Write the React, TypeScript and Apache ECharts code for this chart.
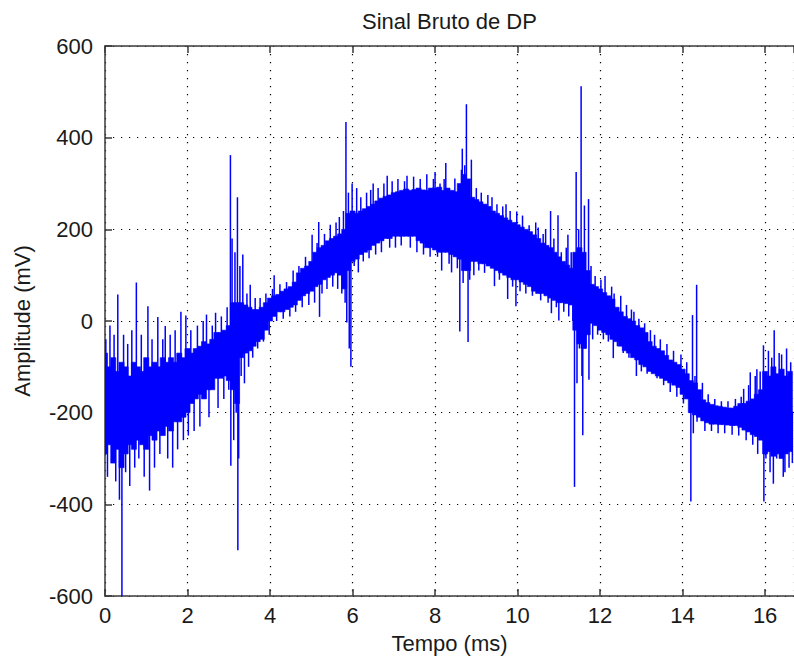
import React, { useEffect, useRef } from "react";
import * as echarts from "echarts";

// Sample step of the binned envelope (ms)
const BIN_STEP = 0.1;

// Upper edge of the dense signal band, one value per 0.1 ms bin (mV), t = 0.0 .. 16.6
const CORE_HI = [
  -70, -100, -80, -110, -90, -100, -120, -90, -100, -110,
  -80, -100, -90, -100, -80, -90, -80, -90, -70, -80,
  -60, -70, -60, -55, -45, -50, -40, -25, -25, -20,
  -10, 40, 40, 40, 35, 30, 25, 25, 30, 40,
  50, 55, 58, 65, 70, 75, 85, 105, 115, 120,
  130, 150, 160, 165, 175, 180, 185, 190, 200, 235,
  240, 235, 240, 245, 250, 255, 262, 268, 272, 275,
  280, 282, 285, 288, 285, 287, 290, 286, 285, 290,
  290, 292, 285, 290, 285, 282, 300, 320, 310, 270,
  265, 260, 255, 250, 240, 235, 230, 225, 220, 215,
  210, 205, 200, 195, 188, 180, 170, 165, 160, 150,
  140, 130, 122, 115, 150, 160, 150, 110, 80, 75,
  70, 62, 55, 48, 30, 20, 10, 5, 0, -10,
  -15, -25, -45, -55, -60, -65, -75, -85, -90, -95,
  -105, -115, -130, -135, -150, -172, -178, -182, -185, -186,
  -188, -190, -190, -186, -180, -180, -175, -170, -160, -150,
  -110, -120, -100, -115, -105, -120, -110,
];

// Lower edge of the dense signal band (mV), same bins
const CORE_LO = [
  -290, -270, -310, -280, -320, -290, -270, -280, -260, -270,
  -280, -250, -260, -240, -250, -230, -240, -220, -220, -210,
  -200, -180, -170, -160, -170, -150, -150, -125, -125, -120,
  -130, -150, -180, -80, -70, -65, -55, -45, -40, -20,
  0, 10, 20, 20, 25, 30, 35, 45, 55, 60,
  65, 75, 80, 90, 95, 100, 105, 100, 70, 110,
  130, 135, 145, 150, 155, 165, 170, 175, 180, 180,
  185, 185, 185, 185, 185, 185, 175, 170, 160, 160,
  155, 150, 150, 150, 145, 140, 135, 110, 110, 130,
  130, 125, 125, 120, 115, 110, 105, 100, 95, 90,
  90, 85, 80, 75, 65, 60, 60, 55, 50, 45,
  40, 40, 38, 35, -20, -50, -60, -30, -5, -10,
  -20, -25, -30, -40, -45, -55, -65, -70, -80, -85,
  -95, -100, -110, -115, -120, -125, -130, -135, -140, -145,
  -160, -170, -200, -205, -210, -218, -222, -225, -225, -226,
  -226, -227, -228, -228, -232, -238, -242, -248, -252, -260,
  -290, -285, -295, -290, -300, -290, -285,
];

// Individual spikes: [time (ms), peak amplitude (mV)]
const SPIKES: [number, number][] = [
  [0.02, -40], [0.06, -340], [0.12, -10], [0.17, -300], [0.22, -30], [0.26, -350],
  [0.31, 58], [0.35, -390], [0.41, -600], [0.45, -30], [0.5, -330], [0.55, -50],
  [0.6, -360], [0.65, -20], [0.72, -320], [0.76, 84], [0.82, -300], [0.88, -30],
  [0.95, -340], [1.04, 32], [1.08, -370], [1.14, -40], [1.2, -320], [1.28, 9],
  [1.33, -290], [1.4, -40], [1.46, -11], [1.52, -300], [1.58, -30], [1.64, -320],
  [1.7, -20], [1.76, -280], [1.84, 20], [1.9, -260], [1.96, 12], [2.02, -250],
  [2.08, -20], [2.16, -240], [2.24, -10], [2.3, -230], [2.38, 0], [2.46, 14],
  [2.52, -210], [2.6, -10], [2.68, 18], [2.74, -190], [2.82, 10], [2.88, -170],
  [2.96, 30], [3.0, -150], [3.04, 362], [3.05, -316], [3.08, 180], [3.12, -260],
  [3.15, 150], [3.18, -200], [3.21, 270], [3.22, -500], [3.24, -300], [3.27, 120],
  [3.3, -120], [3.34, 145], [3.38, -136], [3.44, 60], [3.48, -100], [3.52, 79],
  [3.58, -80], [3.64, 50], [3.7, -60], [3.76, 50], [3.84, -45], [3.9, 60],
  [3.98, -30], [4.06, 70], [4.1, 100], [4.16, 0], [4.24, 80], [4.32, 5],
  [4.4, 85], [4.48, 10], [4.56, 110], [4.62, 20], [4.7, 120], [4.78, 30],
  [4.86, 140], [4.94, 35], [5.02, 188], [5.08, 40], [5.14, 170], [5.18, 216],
  [5.2, 9], [5.26, 60], [5.32, 190], [5.38, 70], [5.46, 210], [5.52, 75],
  [5.6, 215], [5.64, 70], [5.68, 227], [5.74, 60], [5.78, 240], [5.82, 40],
  [5.84, 434], [5.86, -3], [5.9, 280], [5.92, -60], [5.96, -100], [5.99, 300],
  [6.04, 120], [6.1, 290], [6.14, 106], [6.2, 270], [6.26, 130], [6.34, 280],
  [6.4, 137], [6.44, 286], [6.5, 300], [6.56, 145], [6.62, 290], [6.7, 150],
  [6.76, 300], [6.84, 317], [6.9, 160], [6.96, 305], [7.04, 160], [7.1, 310],
  [7.18, 165], [7.26, 305], [7.32, 317], [7.4, 160], [7.48, 315], [7.56, 150],
  [7.64, 310], [7.72, 145], [7.8, 320], [7.88, 140], [7.96, 310], [8.0, 325],
  [8.06, 140], [8.12, 300], [8.16, 110], [8.22, 310], [8.26, 345], [8.34, 125],
  [8.4, 106], [8.48, 311], [8.54, 115], [8.6, -23], [8.64, 330], [8.66, 376],
  [8.68, 83], [8.72, 340], [8.76, 473], [8.8, -46], [8.84, 90], [8.88, 352],
  [8.94, 100], [9.0, 290], [9.06, 110], [9.12, 280], [9.2, 105], [9.28, 275],
  [9.38, 270], [9.44, 76], [9.5, 255], [9.56, 90], [9.64, 250], [9.72, 255],
  [9.76, 48], [9.82, 240], [9.88, 75], [9.96, 32], [9.98, 239], [10.06, 65],
  [10.12, 230], [10.2, 60], [10.28, 209], [10.36, 55], [10.44, 215], [10.5, 204],
  [10.56, 45], [10.62, 190], [10.68, 200], [10.74, 40], [10.8, 240], [10.82, 17],
  [10.88, 180], [10.94, 30], [10.98, 231], [11.0, 1], [11.06, 150], [11.12, 20],
  [11.18, 160], [11.22, 188], [11.24, 10], [11.3, 150], [11.34, 0], [11.38, -362],
  [11.42, 325], [11.44, -136], [11.48, 200], [11.5, -60], [11.54, 512], [11.56, -120],
  [11.58, -249], [11.62, 252], [11.66, -60], [11.72, 266], [11.73, -128], [11.78, 120],
  [11.82, -40], [11.88, 98], [11.94, -30], [12.02, 90], [12.08, -40], [12.12, 98],
  [12.2, -45], [12.28, 75], [12.32, -81], [12.34, 60], [12.42, -55], [12.5, 55],
  [12.56, -70], [12.64, 35], [12.7, -80], [12.76, 25], [12.82, 20], [12.88, -120],
  [12.94, 5], [13.0, -110], [13.08, -5], [13.14, -115], [13.22, -20], [13.32, -30],
  [13.38, -125], [13.46, -40], [13.54, -140], [13.62, -50], [13.7, -155], [13.78, -65],
  [13.86, -165], [13.96, -73], [14.02, -180], [14.1, -90], [14.2, -394], [14.24, 13],
  [14.26, -245], [14.3, -120], [14.34, 79], [14.35, -220], [14.42, -150], [14.48, -135],
  [14.54, -240], [14.62, -160], [14.7, -240], [14.78, -170], [14.86, -245], [14.94, -175],
  [15.02, -245], [15.1, -175], [15.2, -248], [15.28, -170], [15.36, -250], [15.42, -165],
  [15.48, -148], [15.54, -260], [15.6, -140], [15.64, -112], [15.7, -270], [15.76, -120],
  [15.8, -105], [15.82, -290], [15.88, -110], [15.96, -53], [15.97, -394], [16.02, -300],
  [16.08, -65], [16.12, -330], [16.16, -80], [16.2, -355], [16.22, -20], [16.28, -300],
  [16.34, -70], [16.4, -73], [16.44, -340], [16.48, -330], [16.52, -60], [16.58, -320],
  [16.62, -90], [16.66, -310],
];

const TITLE = "Sinal Bruto de DP";
const X_NAME = "Tempo (ms)";
const Y_NAME = "Amplitude (mV)";
const X_MIN = 0;
const X_MAX = 16.7;
const X_STEP = 2;
const Y_MIN = -600;
const Y_MAX = 600;
const Y_STEP = 200;

const FONT = "'Liberation Sans', Arial, Helvetica, sans-serif";
const BLUE = "#0000ff";
const AXIS_COLOR = "#3a3a3a";

export default function App() {
  const ref = useRef<HTMLDivElement>(null);

  useEffect(() => {
    if (!ref.current) return;
    const chart = echarts.init(ref.current, undefined, { renderer: "svg" });

    const coreData = CORE_HI.map((hi, i) => [i * BIN_STEP, CORE_LO[i], hi]);
    const spikeData = SPIKES.map(([t, v]) => {
      const idx = Math.min(CORE_HI.length - 1, Math.max(0, Math.round(t / BIN_STEP)));
      const base = (CORE_HI[idx] + CORE_LO[idx]) / 2;
      return [t, v, base];
    });

    const axisLine = { show: true, onZero: false, lineStyle: { color: AXIS_COLOR, width: 1.5 } };
    const axisTick = { show: true, inside: true, length: 7, lineStyle: { color: AXIS_COLOR, width: 1.5 } };
    const splitLine = { show: true, lineStyle: { color: "#000", width: 1.2, type: [1.2, 6.8] as any } };
    const labelStyle = { fontSize: 22, color: "#1a1a1a", fontFamily: FONT };
    const fmt = (v: number) => (Math.abs(v / X_STEP - Math.round(v / X_STEP)) < 1e-6 ? String(v) : "");

    chart.setOption({
      animation: false,
      backgroundColor: "#ffffff",
      grid: { left: 105, top: 46, right: -2, bottom: 68, containLabel: false },
      xAxis: [
        {
          type: "value",
          position: "bottom",
          min: X_MIN,
          max: X_MAX,
          interval: X_STEP,
          name: X_NAME,
          nameLocation: "middle",
          nameGap: 36,
          nameTextStyle: { ...labelStyle },
          axisLine,
          axisTick,
          axisLabel: { ...labelStyle, margin: 8, formatter: fmt, showMaxLabel: false },
          splitLine,
        },
        {
          type: "value",
          position: "top",
          min: X_MIN,
          max: X_MAX,
          interval: X_STEP,
          name: TITLE,
          nameLocation: "middle",
          nameGap: 14,
          nameTextStyle: { ...labelStyle },
          axisLine,
          axisTick,
          axisLabel: { show: false },
          splitLine: { show: false },
        },
      ],
      yAxis: [
        {
          type: "value",
          min: Y_MIN,
          max: Y_MAX,
          interval: Y_STEP,
          name: Y_NAME,
          nameLocation: "middle",
          nameGap: 72,
          nameTextStyle: { ...labelStyle },
          axisLine,
          axisTick,
          axisLabel: { ...labelStyle, margin: 12 },
          splitLine,
        },
      ],
      series: [
        {
          type: "custom",
          xAxisIndex: 0,
          clip: true,
          data: coreData,
          encode: { x: 0, y: [1, 2] },
          renderItem: (_p: any, api: any) => {
            const t = api.value(0);
            const lo = api.value(1);
            const hi = api.value(2);
            const a = api.coord([t - BIN_STEP / 2, hi]);
            const b = api.coord([t + BIN_STEP / 2, lo]);
            return {
              type: "rect",
              shape: { x: a[0] - 0.5, y: a[1], width: b[0] - a[0] + 1, height: b[1] - a[1] },
              style: { fill: BLUE, stroke: BLUE, lineWidth: 0.6 },
            };
          },
        },
        {
          type: "custom",
          xAxisIndex: 0,
          clip: true,
          data: spikeData,
          encode: { x: 0, y: [1, 2] },
          renderItem: (_p: any, api: any) => {
            const t = api.value(0);
            const v = api.value(1);
            const base = api.value(2);
            const a = api.coord([t, base]);
            const b = api.coord([t, v]);
            return {
              type: "line",
              shape: { x1: a[0], y1: a[1], x2: b[0], y2: b[1] },
              style: { stroke: BLUE, lineWidth: 1.5 },
            };
          },
        },
      ],
    });

    return () => chart.dispose();
  }, []);

  return (
    <div
      ref={ref}
      style={{ position: "fixed", left: 0, top: 0, width: 794, height: 664, background: "#fff" }}
    />
  );
}
